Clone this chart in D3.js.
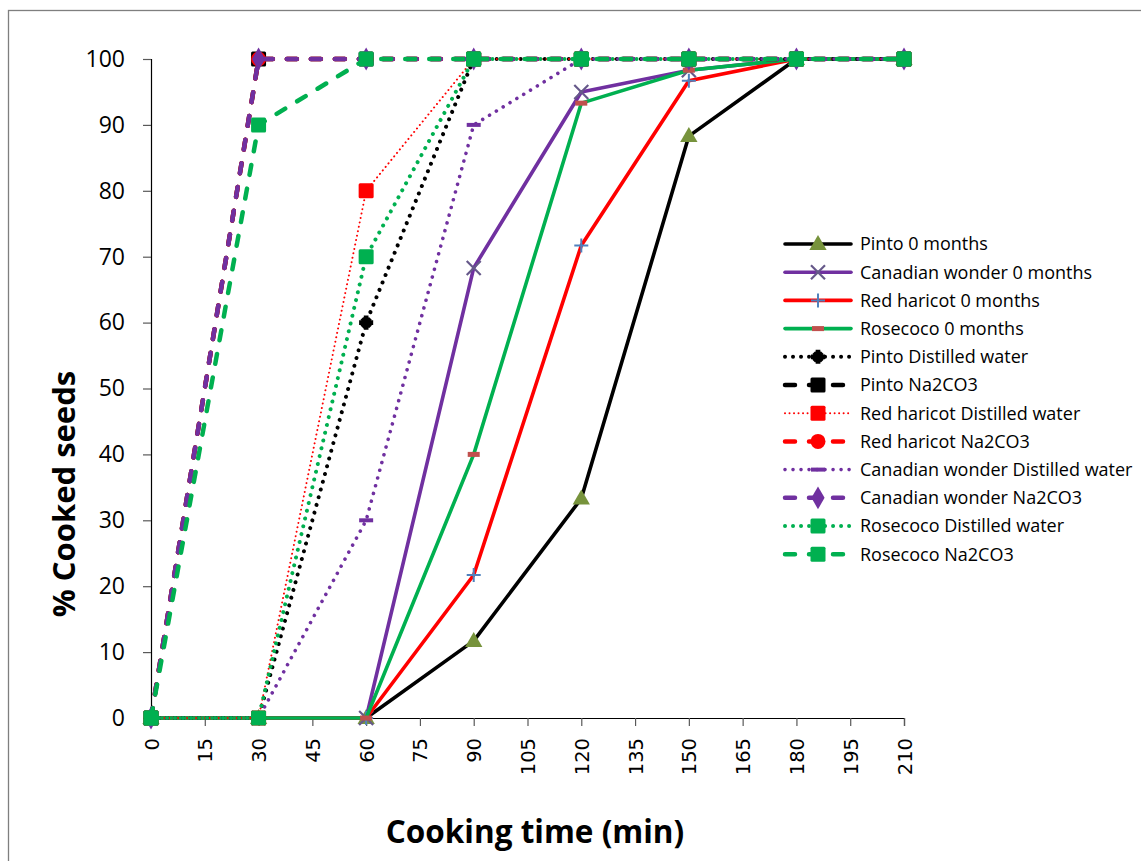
<!DOCTYPE html>
<html><head><meta charset="utf-8">
<script src="https://cdn.jsdelivr.net/npm/d3@7"></script>
<style>html,body{margin:0;padding:0;background:#fff;overflow:hidden}</style>
</head><body>
<svg id="chart" width="1141" height="861"></svg>
<script>
// ---- data ----
const cookingTimes = [0, 30, 60, 90, 120, 150, 180, 210];
const xTickValues = [0, 15, 30, 45, 60, 75, 90, 105, 120, 135, 150, 165, 180, 195, 210];
const yTickValues = [0, 10, 20, 30, 40, 50, 60, 70, 80, 90, 100];
const seriesNames = [
  "Pinto 0 months", "Canadian wonder 0 months", "Red haricot 0 months", "Rosecoco 0 months",
  "Pinto Distilled water", "Pinto Na2CO3", "Red haricot Distilled water", "Red haricot Na2CO3",
  "Canadian wonder Distilled water", "Canadian wonder Na2CO3", "Rosecoco Distilled water", "Rosecoco Na2CO3"
];
const pinto0 = [0, 0, 0, 11.7, 33.3, 88.3, 100, 100];
const canadian0 = [0, 0, 0, 68.3, 95, 98.3, 100, 100];
const redHaricot0 = [0, 0, 0, 21.7, 71.7, 96.7, 100, 100];
const rosecoco0 = [0, 0, 0, 40, 93.3, 98.3, 100, 100];
const pintoDW = [0, 0, 60, 100, 100, 100, 100, 100];
const pintoNa = [0, 100, 100, 100, 100, 100, 100, 100];
const redHaricotDW = [0, 0, 80, 100, 100, 100, 100, 100];
const redHaricotNa = [0, 100, 100, 100, 100, 100, 100, 100];
const canadianDW = [0, 0, 30, 90, 100, 100, 100, 100];
const canadianNa = [0, 100, 100, 100, 100, 100, 100, 100];
const rosecocoDW = [0, 0, 70, 100, 100, 100, 100, 100];
const rosecocoNa = [0, 90, 100, 100, 100, 100, 100, 100];
const seriesValues = [pinto0, canadian0, redHaricot0, rosecoco0, pintoDW, pintoNa,
  redHaricotDW, redHaricotNa, canadianDW, canadianNa, rosecocoDW, rosecocoNa];

// ---- styles ----
const DOT = "0.01,8", DOT_THIN = "0.01,4.5", DASH = "10,14";
const styles = [
  {color:"#000000", width:3.6, dash:null, marker:"triangle", mfill:"#77933C"},
  {color:"#7030A0", width:3.6, dash:null, marker:"x", mfill:"#66598A"},
  {color:"#FF0000", width:3.6, dash:null, marker:"plus", mfill:"#4F81BD"},
  {color:"#00B050", width:3.6, dash:null, marker:"bar", mfill:"#C0504D"},
  {color:"#000000", width:4, dash:DOT, marker:"star", mfill:"#000000"},
  {color:"#000000", width:4.5, dash:DASH, marker:"square", mfill:"#000000"},
  {color:"#FF0000", width:2, dash:DOT_THIN, marker:"square", mfill:"#FF0000"},
  {color:"#FF0000", width:4.5, dash:DASH, marker:"circle", mfill:"#FF0000"},
  {color:"#7030A0", width:3.6, dash:DOT, marker:"dash", mfill:"#7030A0"},
  {color:"#7030A0", width:4.5, dash:DASH, marker:"diamond", mfill:"#7030A0"},
  {color:"#00B050", width:4, dash:DOT, marker:"square", mfill:"#00B050"},
  {color:"#00B050", width:4.5, dash:DASH, marker:"square", mfill:"#00B050"}
];

const svg = d3.select("#chart");
// chart frame
svg.append("rect").attr("x", 8.5).attr("y", 10.5).attr("width", 1200).attr("height", 900)
  .attr("fill", "none").attr("stroke", "#7f7f7f").attr("stroke-width", 1.3);

const x = d3.scaleLinear().domain([0, 210]).range([151, 904]);
const y = d3.scaleLinear().domain([0, 100]).range([718, 59]);

// axes
const yAxis = svg.append("g").attr("transform", "translate(151,0)")
  .call(d3.axisLeft(y).tickValues(yTickValues).tickSize(8).tickPadding(18));
yAxis.select(".domain").attr("stroke", "#000").attr("stroke-width", 1.2);
yAxis.selectAll(".tick line").attr("stroke", "#595959").attr("stroke-width", 1.2);
yAxis.selectAll("text").attr("font-family", "'Open Sans', sans-serif").attr("font-size", 23).attr("fill", "#000");

const xAxis = svg.append("g").attr("transform", "translate(0,718)")
  .call(d3.axisBottom(x).tickValues(xTickValues).tickSize(8));
xAxis.select(".domain").attr("stroke", "#000").attr("stroke-width", 1.2);
xAxis.selectAll(".tick line").attr("stroke", "#595959").attr("stroke-width", 1.2);
xAxis.selectAll("text").attr("font-family", "'DejaVu Sans', sans-serif").attr("font-size", 19.5).attr("fill", "#000")
  .attr("transform", "rotate(-90)").attr("text-anchor", "end").attr("x", -20).attr("y", 0).attr("dy", "0.36em");

// titles
svg.append("text").attr("transform", "translate(75,494) rotate(-90)").attr("text-anchor", "middle")
  .attr("font-family", "'Open Sans', sans-serif").attr("font-weight", "bold").attr("font-size", 31)
  .text("% Cooked seeds");
svg.append("text").attr("x", 535).attr("y", 843).attr("text-anchor", "middle")
  .attr("font-family", "'Open Sans', sans-serif").attr("font-weight", "bold").attr("font-size", 31.5)
  .text("Cooking time (min)");

function drawMarker(g, type, cx, cy, fill) {
  const m = g.append("g").attr("transform", `translate(${cx},${cy})`);
  switch (type) {
    case "triangle":
      m.append("path").attr("d", d3.symbol(d3.symbolTriangle, 130)()).attr("fill", fill)
        .attr("transform", "translate(0,1)"); break;
    case "x":
      m.append("path").attr("d", "M-7,-7L7,7M-7,7L7,-7").attr("stroke", fill).attr("stroke-width", 2.2); break;
    case "plus":
      m.append("path").attr("d", "M-7,0L7,0M0,-7L0,7").attr("stroke", fill).attr("stroke-width", 2); break;
    case "bar":
      m.append("rect").attr("x", -6).attr("y", -2.5).attr("width", 12).attr("height", 5).attr("fill", fill); break;
    case "star":
      m.append("path").attr("d", d3.symbol(d3.symbolCross, 110)()).attr("fill", fill);
      m.append("path").attr("d", d3.symbol(d3.symbolCross, 80)()).attr("fill", fill).attr("transform", "rotate(45)"); break;
    case "square":
      m.append("rect").attr("x", -7.5).attr("y", -7.5).attr("width", 15).attr("height", 15).attr("rx", 1.5).attr("fill", fill); break;
    case "circle":
      m.append("circle").attr("r", 7.5).attr("fill", fill); break;
    case "dash":
      m.append("rect").attr("x", -7).attr("y", -2).attr("width", 14).attr("height", 4).attr("fill", fill); break;
    case "diamond":
      m.append("path").attr("d", d3.symbol(d3.symbolDiamond, 150)()).attr("fill", fill); break;
  }
}

const line = d3.line().x(d => x(d[0])).y(d => y(d[1]));
const plot = svg.append("g");
seriesValues.forEach((vals, i) => {
  const st = styles[i];
  const pts = cookingTimes.map((t, k) => [t, vals[k]]);
  const g = plot.append("g");
  g.append("path").attr("d", line(pts)).attr("fill", "none").attr("stroke", st.color)
    .attr("stroke-width", st.width).attr("stroke-linecap", "round").attr("stroke-linejoin", "round")
    .attr("stroke-dasharray", st.dash);
  pts.forEach(p => drawMarker(g, st.marker, x(p[0]), y(p[1]), st.mfill));
});

// legend
const legend = svg.append("g");
seriesNames.forEach((name, i) => {
  const st = styles[i];
  const ly = 244 + i * 28.2;
  const g = legend.append("g");
  g.append("line").attr("x1", 785).attr("x2", 851).attr("y1", ly).attr("y2", ly)
    .attr("stroke", st.color).attr("stroke-width", st.width).attr("stroke-linecap", "round")
    .attr("stroke-dasharray", st.dash);
  drawMarker(g, st.marker, 818, ly, st.mfill);
  g.append("text").attr("x", 860).attr("y", ly).attr("dy", "0.35em")
    .attr("font-family", "'Open Sans', sans-serif").attr("font-size", 18).attr("fill", "#000").text(name);
});
</script>
</body></html>
